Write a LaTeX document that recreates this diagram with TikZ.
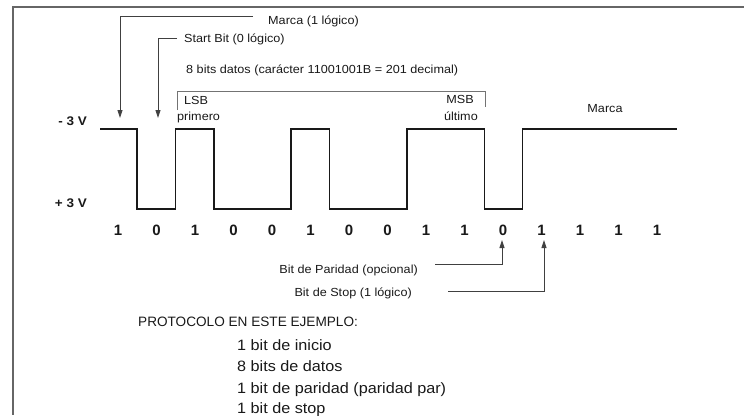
\documentclass[tikz,border=0pt]{standalone}
\usepackage{fontspec}
\setmainfont{Liberation Sans}
\newfontfamily\lblfont[FakeStretch=1.08]{Liberation Sans}
\usetikzlibrary{arrows.meta}
\begin{document}
\begin{tikzpicture}[x=1pt,y=-1pt,
  small/.style={font=\lblfont\fontsize{11.7}{14}\selectfont, inner sep=0pt, text=black!90},
  volt/.style={font=\lblfont\bfseries\fontsize{12.5}{14}\selectfont, inner sep=0pt, text=black!90},
  digit/.style={font=\bfseries\fontsize{15}{17}\selectfont, inner sep=0pt, text=black!90},
  proto/.style={font=\fontsize{13.6}{16}\selectfont, inner sep=0pt, text=black!90},
  listtxt/.style={font=\lblfont\fontsize{15}{17}\selectfont, inner sep=0pt, text=black!90},
  wave/.style={line width=1.8pt, black!90, line join=miter},
  conn/.style={line width=0.9pt, black!75, -{Triangle[length=8pt,width=5pt]}},
  brk/.style={line width=0.9pt, black!55},
  frame/.style={line width=2pt, black!60}]
\useasboundingbox (0,0) rectangle (744,415);
% frame
\draw[frame] (744,6.5) -- (13,6.5) -- (13,415);

% labels at top
\node[small, anchor=base west] (marcaTop) at (268,24) {Marca (1 lógico)};
\node[small, anchor=base west] (startLbl) at (184,42) {Start Bit (0 lógico)};
\node[small, anchor=base west] (datos) at (186,73) {8 bits datos (carácter 11001001B = 201 decimal)};
\node[small, anchor=base west] (lsb) at (184,104) {LSB};
\node[small, anchor=base west] (prim) at (177,120) {primero};
\node[small, anchor=base east] (msb) at (474,103) {MSB};
\node[small, anchor=base east] (ult) at (478,120) {último};
\node[small, anchor=base] (marcaR) at (605,112) {Marca};

% voltage labels
\node[volt, anchor=base east] (vneg) at (87,125) {- 3 V};
\node[volt, anchor=base east] (vpos) at (87,207) {+ 3 V};

% bracket over data bits
\draw[brk] (177,110) -- (177,91) -- (485,91) -- (485,107);

% waveform
\draw[wave] (100,129) -- (137,129) -- (137,209) -- (175.5,209) -- (175.5,129)
  -- (214,129) -- (214,209) -- (291,209) -- (291,129) -- (329.5,129)
  -- (329.5,209) -- (407,209) -- (407,129) -- (484.5,129) -- (484.5,209)
  -- (522.5,209) -- (522.5,129) -- (677,129);

% bit values
\foreach \b [count=\i from 0] in {1,0,1,0,0,1,0,0,1,1,0,1,1,1,1}
  \node[digit, anchor=base] (b\i) at (118+38.5*\i,235) {\b};

% top arrows
\coordinate (mStart) at (253,16);
\coordinate (mTip) at (120,118);
\draw[conn] (mStart) -| (mTip);
\coordinate (sStart) at (177,38);
\coordinate (sTip) at (158,118);
\draw[conn] (sStart) -| (sTip);

% bottom labels and arrows
\node[small, anchor=base east] (parLbl) at (418,273) {Bit de Paridad (opcional)};
\node[small, anchor=base east] (stopLbl) at (412,296) {Bit de Stop (1 lógico)};
\coordinate (pStart) at (435,264);
\coordinate (pTip) at (502,240);
\draw[conn] (pStart) -| (pTip);
\coordinate (tStart) at (448,291);
\coordinate (tTip) at (544,240);
\draw[conn] (tStart) -| (tTip);

% protocol description
\node[proto, anchor=base west] (proto) at (138,326.5) {PROTOCOLO EN ESTE EJEMPLO:};
\node[listtxt, anchor=base west] (l1) at (237,350.5) {1 bit de inicio};
\node[listtxt, anchor=base west] (l2) at (237,371.5) {8 bits de datos};
\node[listtxt, anchor=base west] (l3) at (237,393) {1 bit de paridad (paridad par)};
\node[listtxt, anchor=base west] (l4) at (237,413) {1 bit de stop};
\end{tikzpicture}
\end{document}
